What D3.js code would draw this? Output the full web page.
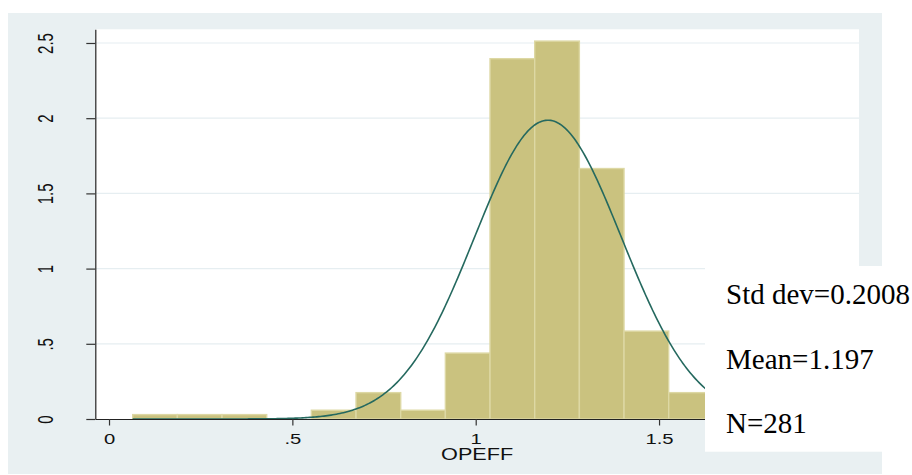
<!DOCTYPE html>
<html>
<head>
<meta charset="utf-8">
<script src="https://cdn.jsdelivr.net/npm/d3@7"></script>
<style>
  html, body { margin: 0; padding: 0; background: #ffffff; }
  svg { display: block; }
</style>
</head>
<body>
<svg id="chart" width="912" height="475"></svg>
<script>
// ---- data ----
const binStart = 0.0646;           // left edge of first bin
const binWidth = 0.12181;          // width of each bin
const binCounts = [1, 1, 1, 0, 2, 6, 2, 15, 82, 86, 57, 20, 6, 1, 0, 1];
const nObs = 281;
const meanVal = 1.197;
const sdVal = 0.2008;
const xTicks = [0, 0.5, 1, 1.5];
const xTickLabels = ["0", ".5", "1", "1.5"];
const yTicks = [0, 0.5, 1, 1.5, 2, 2.5];
const yTickLabels = ["0", ".5", "1", "1.5", "2", "2.5"];
const xTitle = "OPEFF";
const statLines = ["Std dev=0.2008", "Mean=1.197", "N=281"];

// ---- layout ----
const svg = d3.select("#chart");
const plot = { left: 95.3, right: 859, top: 29.3, bottom: 419 };
const x = d3.scaleLinear().domain([-0.0374, 2.0453]).range([plot.left, plot.right]);
const y = d3.scaleLinear().domain([0, 2.591]).range([plot.bottom, plot.top]);

const bins = binCounts.map((c, i) => ({
  x0: binStart + i * binWidth,
  x1: binStart + (i + 1) * binWidth,
  density: c / (nObs * binWidth)
}));

// graph region background
svg.append("rect").attr("x", 8).attr("y", 13).attr("width", 874).attr("height", 461)
  .attr("fill", "#e9f0f2");
// plot region
svg.append("rect").attr("x", plot.left).attr("y", plot.top)
  .attr("width", plot.right - plot.left).attr("height", plot.bottom - plot.top)
  .attr("fill", "#ffffff");

// gridlines
svg.append("g").selectAll("line").data(yTicks.filter(v => v > 0)).join("line")
  .attr("x1", plot.left).attr("x2", plot.right)
  .attr("y1", d => y(d)).attr("y2", d => y(d))
  .attr("stroke", "#e6eef1").attr("stroke-width", 1.2);

// bars
svg.append("g").selectAll("rect").data(bins.filter(b => b.density > 0)).join("rect")
  .attr("x", d => x(d.x0)).attr("width", d => x(d.x1) - x(d.x0))
  .attr("y", d => y(d.density)).attr("height", d => y(0) - y(d.density))
  .attr("fill", "#cac27f").attr("stroke", "#ddd8a4").attr("stroke-width", 1.4);

// normal density curve
const xMin = binStart, xMax = binStart + binCounts.length * binWidth;
const curvePts = d3.range(0, 401).map(i => {
  const v = xMin + (xMax - xMin) * i / 400;
  const z = (v - meanVal) / sdVal;
  return [v, Math.exp(-0.5 * z * z) / (sdVal * Math.sqrt(2 * Math.PI))];
});
svg.append("path").datum(curvePts)
  .attr("d", d3.line().x(d => x(d[0])).y(d => y(d[1])))
  .attr("fill", "none").attr("stroke", "#25695f").attr("stroke-width", 1.6);

// axes
const xAxis = d3.axisBottom(x).tickValues(xTicks)
  .tickFormat((d, i) => xTickLabels[i]).tickSize(6.5).tickSizeOuter(0);
const gx = svg.append("g").attr("transform", `translate(0,${plot.bottom})`).call(xAxis);
gx.select(".domain").attr("stroke", "#222").attr("stroke-width", 1.2);
gx.selectAll(".tick line").attr("stroke", "#333").attr("stroke-width", 1.2);
gx.selectAll(".tick text")
  .attr("y", 25).attr("dy", null)
  .attr("transform", "scale(1.35,1)")
  .attr("font-family", "Liberation Sans, Arial, sans-serif")
  .attr("font-size", 15).attr("fill", "#111");

const yAxis = d3.axisLeft(y).tickValues(yTicks)
  .tickFormat((d, i) => yTickLabels[i]).tickSize(9).tickSizeOuter(0);
const gy = svg.append("g").attr("transform", `translate(${plot.left},0)`).call(yAxis);
gy.select(".domain").attr("stroke", "#222").attr("stroke-width", 1.2);
gy.selectAll(".tick line").attr("stroke", "#333").attr("stroke-width", 1.2);
gy.selectAll(".tick text")
  .attr("x", 0).attr("y", 0).attr("dy", null)
  .attr("text-anchor", "middle")
  .attr("transform", "translate(-42,0) scale(1.45,1) rotate(-90)")
  .attr("font-family", "Liberation Sans, Arial, sans-serif")
  .attr("font-size", 15).attr("fill", "#111");

// x title
svg.append("text")
  .attr("transform", `translate(${(plot.left + plot.right) / 2},460) scale(1.33,1)`)
  .attr("text-anchor", "middle")
  .attr("font-family", "Liberation Sans, Arial, sans-serif")
  .attr("font-size", 16.3).attr("fill", "#111")
  .text(xTitle);

// statistics box
svg.append("rect").attr("x", 705).attr("y", 266).attr("width", 207).attr("height", 185.7)
  .attr("fill", "#ffffff");
svg.append("g").selectAll("text").data(statLines).join("text")
  .attr("x", 726).attr("y", (d, i) => 304.3 + i * 64.5)
  .attr("font-family", "Liberation Serif, Times New Roman, serif")
  .attr("font-size", 29).attr("fill", "#000")
  .text(d => d);
</script>
</body>
</html>
